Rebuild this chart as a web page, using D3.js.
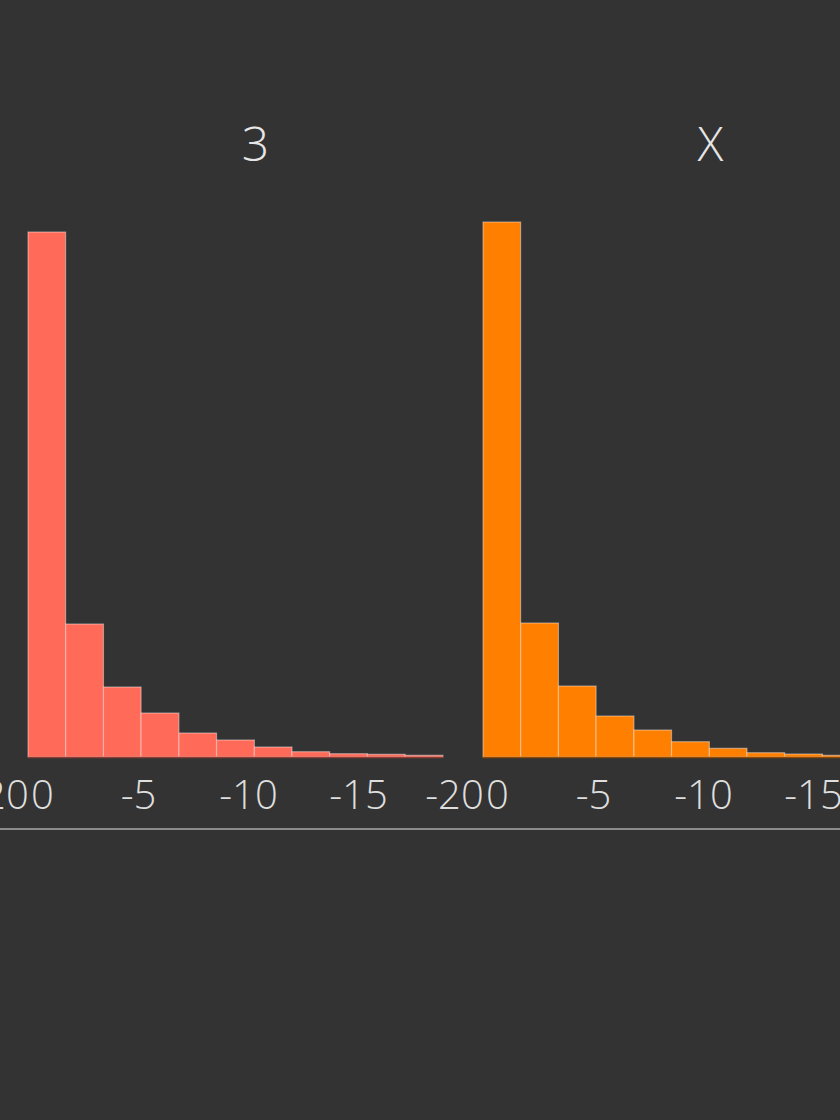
<!DOCTYPE html>
<html>
<head>
<meta charset="utf-8">
<script src="https://cdn.jsdelivr.net/npm/d3@7"></script>
<style>
  html, body { margin: 0; padding: 0; background: #333333; }
  svg { display: block; }
</style>
</head>
<body>
<svg id="chart" width="840" height="1120"></svg>
<script>
// ---- data ----
const facets = ["3", "X"];
const binEdges = [0, -1.71, -3.43, -5.14, -6.86, -8.57, -10.29, -12.0, -13.71, -15.43, -17.14, -18.86];
const counts3 = [525, 133, 70, 44, 24, 17, 10, 5.3, 3.3, 2.7, 1.7];
const countsX = [535, 134, 71, 41, 27, 15.3, 8.7, 4.3, 3, 1.7, 1];
const seriesValues = [counts3, countsX];
const tickValues = [0, -5, -10, -15, -20];
const tickLabels = ["0", "-5", "-10", "-15", "-20"];
const colors = ["#ff6a59", "#ff7f00"];

// ---- layout ----
const W = 840, H = 1120;
const panelStep = 455, firstX = 28, plotW = 440;
const baseY = 757;
const svg = d3.select("#chart");
svg.append("rect").attr("width", W).attr("height", H).attr("fill", "#333333");

const x = d3.scaleLinear().domain([0, -20]).range([0, plotW]);
const y = d3.scaleLinear().domain([0, 600]).range([baseY, baseY - 600]);

const fontFam = "'Open Sans', Lato, 'DejaVu Sans', sans-serif";

function drawAxis(g, onlyLast) {
  const vals = onlyLast ? tickValues.slice(-1) : tickValues;
  const axis = d3.axisBottom(x).tickValues(vals)
    .tickFormat(d => tickLabels[tickValues.indexOf(d)]).tickSize(0).tickPadding(0);
  const ax = g.append("g").attr("transform", `translate(0,${baseY})`).call(axis);
  ax.select(".domain").remove();
  ax.selectAll("text")
    .attr("y", 52)
    .attr("dy", 0)
    .attr("fill", "#dedede")
    .attr("font-family", fontFam)
    .attr("font-weight", 300)
    .attr("font-size", 40)
    .attr("dx", d => d === tickValues[0] ? 14 : (d === tickValues[tickValues.length - 1] ? -14 : 0));
}

// neighbouring panel to the left, mostly off-canvas: only its last label peeks in
svg.append("g").attr("transform", `translate(${firstX - panelStep},0)`).call(g => drawAxis(g, true));

facets.forEach((f, fi) => {
  const g = svg.append("g").attr("transform", `translate(${firstX + fi * panelStep},0)`);
  const vals = seriesValues[fi];
  g.selectAll("rect.bar").data(vals).enter().append("rect")
    .attr("class", "bar")
    .attr("x", (d, i) => x(binEdges[i]))
    .attr("width", (d, i) => x(binEdges[i + 1]) - x(binEdges[i]))
    .attr("y", d => y(d))
    .attr("height", d => baseY - y(d))
    .attr("fill", colors[fi])
    .attr("stroke", "rgba(255,255,255,0.4)")
    .attr("stroke-width", 1.2);
  g.append("line")
    .attr("x1", x(binEdges[0])).attr("x2", x(binEdges[binEdges.length - 1]))
    .attr("y1", baseY + 0.5).attr("y2", baseY + 0.5)
    .attr("stroke", d3.color(colors[fi]).darker(1.6)).attr("stroke-width", 1.5);
  drawAxis(g, false);
  g.append("text")
    .attr("x", panelStep / 2)
    .attr("y", 161)
    .attr("text-anchor", "middle")
    .attr("fill", "#e6e6e6")
    .attr("font-family", fontFam)
    .attr("font-weight", 300)
    .attr("font-size", 48)
    .text(f);
});

svg.append("line")
  .attr("x1", 0).attr("x2", W)
  .attr("y1", 829).attr("y2", 829)
  .attr("stroke", "#8c8c8c").attr("stroke-width", 2);
</script>
</body>
</html>
